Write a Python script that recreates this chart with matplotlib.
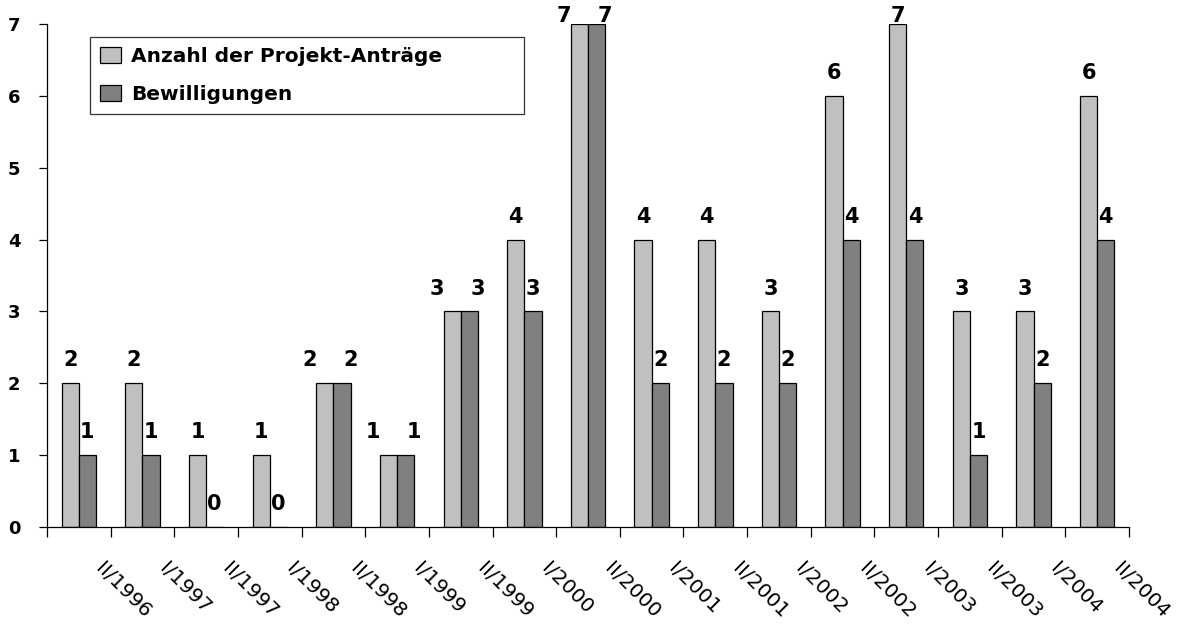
import numpy as np
import matplotlib
matplotlib.use("Agg")
import matplotlib.pyplot as plt
import matplotlib.transforms as mtransforms

# Semester labels and counts
semesters = ["II/1996", "I/1997", "II/1997", "I/1998", "II/1998", "I/1999",
             "II/1999", "I/2000", "II/2000", "I/2001", "II/2001", "I/2002",
             "II/2002", "I/2003", "II/2003", "I/2004", "II/2004"]
antraege = [2, 2, 1, 1, 2, 1, 3, 4, 7, 4, 4, 3, 6, 7, 3, 3, 6]
bewilligungen = [1, 1, 0, 0, 2, 1, 3, 3, 7, 2, 2, 2, 4, 4, 1, 2, 4]

LIGHT = "#c0c0c0"
DARK = "#808080"

plt.rcParams["font.family"] = ["DejaVu Sans"]

fig = plt.figure(figsize=(11.86, 6.26), dpi=100)
ax = fig.add_axes([0.0396, 0.1581, 0.9124, 0.8036])

x = np.arange(len(semesters))
w = 0.27
ax.bar(x - w / 2, antraege, w, color=LIGHT, edgecolor="black", linewidth=0.9,
       label="Anzahl der Projekt-Anträge")
ax.bar(x + w / 2, bewilligungen, w, color=DARK, edgecolor="black", linewidth=0.9,
       label="Bewilligungen")

# value labels above the bars, pushed apart when both bars are equal
for i in range(len(semesters)):
    a, b = antraege[i], bewilligungen[i]
    da, db = (-11, 6) if a == b else (0, 0)
    ax.annotate(str(a), (x[i] - w / 2, a), xytext=(da, 16.5 if a < 7 else 6),
                textcoords="offset points", ha="center", va="center",
                fontsize=15, fontweight="bold", annotation_clip=False)
    ax.annotate(str(b), (x[i] + w / 2, b), xytext=(db, 16.5 if b < 7 else 6),
                textcoords="offset points", ha="center", va="center",
                fontsize=15, fontweight="bold", annotation_clip=False)

ax.set_xlim(-0.5, len(semesters) - 0.5)
ax.set_ylim(0, 7)
ax.set_yticks(range(8))
ax.tick_params(axis="y", labelsize=13, length=6, width=0.9, pad=13)
for t in ax.get_yticklabels():
    t.set_fontweight("bold")

bounds = np.arange(len(semesters) + 1) - 0.5
ax.set_xticks(bounds)
ax.set_xticklabels([""] + semesters, rotation=-45, ha="left", va="top",
                   rotation_mode="anchor", fontsize=14.5)
ax.tick_params(axis="x", length=7, width=0.9, pad=14)
shift = mtransforms.ScaledTranslation(-4 / 72, -2 / 72, fig.dpi_scale_trans)
for t in ax.get_xticklabels():
    t.set_transform(t.get_transform() + shift)

for s in ["top", "right"]:
    ax.spines[s].set_visible(False)
for s in ["left", "bottom"]:
    ax.spines[s].set_linewidth(0.9)

# legend box stretched to the width of the original frame
leg = ax.legend(loc="upper left", bbox_to_anchor=(0.0397, 0.82, 0.401, 0.154),
                mode="expand", prop={"weight": "bold", "size": 14.5},
                frameon=True, fancybox=False, edgecolor="black",
                handlelength=1.05, handleheight=0.85, handletextpad=0.5,
                borderpad=0.5, labelspacing=0.95, borderaxespad=0)
leg.get_frame().set_linewidth(0.9)

fig.savefig("out.png", dpi=100)
